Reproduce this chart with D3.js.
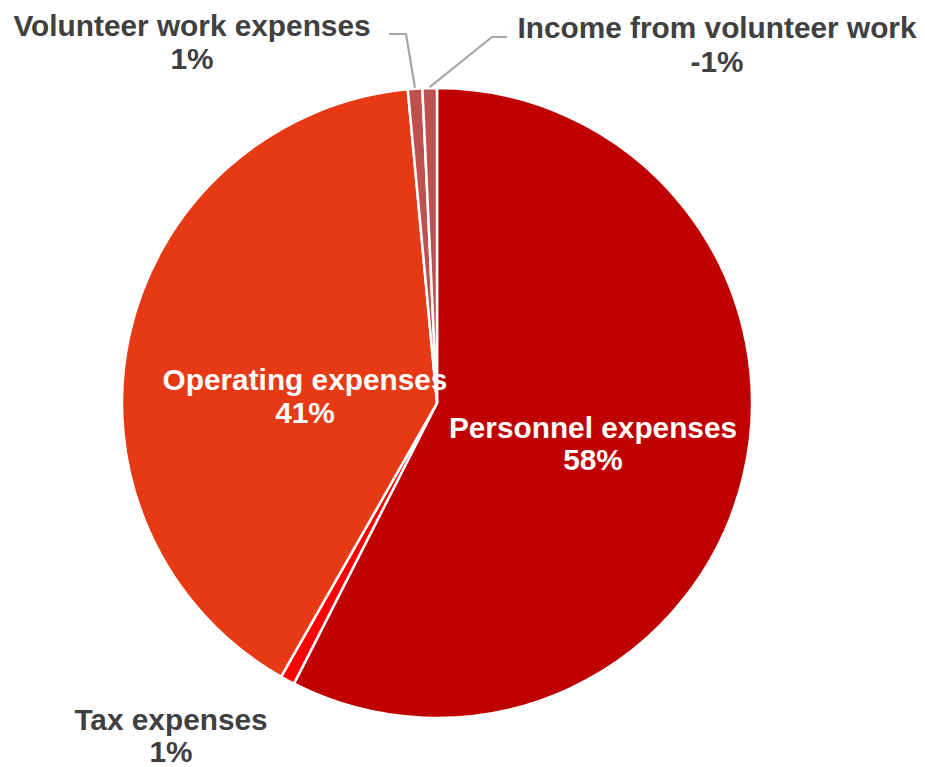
<!DOCTYPE html>
<html>
<head>
<meta charset="utf-8">
<script src="https://cdn.jsdelivr.net/npm/d3@7"></script>
<style>
html,body{margin:0;padding:0;background:#fff;}
svg{display:block;font-family:"Liberation Sans",Arial,sans-serif;font-weight:bold;}
</style>
</head>
<body>
<svg id="chart" width="925" height="767"></svg>
<script>
// ---- data ----
const categories = ["Personnel expenses","Tax expenses","Operating expenses","Volunteer work expenses","Income from volunteer work"];
const values = [57.5, 0.74, 40.28, 0.74, -0.74];
const colors = ["#C00000","#FF0000","#E63914","#C0504D","#C0504D"];

// ---- layout ----
const W = 925, H = 767;
const cx = 437, cy = 403, R = 315;
// label placement (layout, not data)
const labelLayout = {
  "Personnel expenses":        {x: 593, y1: 438, y2: 470, fill: "#FFFFFF"},
  "Operating expenses":        {x: 305, y1: 390, y2: 423, fill: "#FFFFFF"},
  "Tax expenses":              {x: 171, y1: 730, y2: 762, fill: "#404040"},
  "Volunteer work expenses":   {x: 192, y1: 36,  y2: 69,  fill: "#404040", leader: [[389,34],[406,34]]},
  "Income from volunteer work":{x: 717, y1: 38,  y2: 72,  fill: "#404040", leader: [[507,37],[492,37]]}
};

const data = categories.map((c,i)=>({name:c, value:values[i], color:colors[i]}));

const svg = d3.select("#chart");
const g = svg.append("g").attr("transform",`translate(${cx},${cy})`);

const pie = d3.pie().value(d=>Math.abs(d.value)).sort(null);
const arc = d3.arc().innerRadius(0).outerRadius(R);
const arcs = pie(data);

g.selectAll("path.slice").data(arcs).enter().append("path")
  .attr("class","slice")
  .attr("d",arc)
  .attr("fill",d=>d.data.color)
  .attr("stroke","#FFFFFF")
  .attr("stroke-width",2.5)
  .attr("stroke-linejoin","miter");

// percentages relative to the signed total (as the source chart shows)
const total = d3.sum(values);
const fmt = v => Math.round(v) + "%";

// leader lines
const outerArc = d3.arc().innerRadius(R+1).outerRadius(R+1);
arcs.forEach(a=>{
  const L = labelLayout[a.data.name];
  if(!L.leader) return;
  const c = outerArc.centroid(a);
  const pts = L.leader.concat([[cx+c[0], cy+c[1]]]);
  svg.append("path")
    .attr("d", d3.line()(pts))
    .attr("fill","none")
    .attr("stroke","#A6A6A6")
    .attr("stroke-width",2.2);
});

// labels
arcs.forEach(a=>{
  const L = labelLayout[a.data.name];
  const pct = a.data.value/total*100;
  const t = svg.append("text")
    .attr("text-anchor","middle")
    .attr("font-size","29.8px")
    .attr("fill",L.fill);
  t.append("tspan").attr("x",L.x).attr("y",L.y1).text(a.data.name);
  t.append("tspan").attr("x",L.x).attr("y",L.y2).text(fmt(pct));
});
</script>
</body>
</html>
